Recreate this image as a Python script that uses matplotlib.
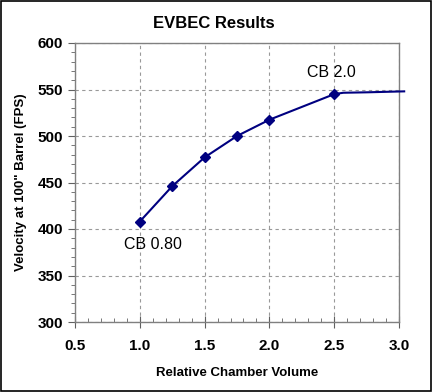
import matplotlib
matplotlib.use("Agg")
import matplotlib.pyplot as plt
from matplotlib.ticker import MultipleLocator, FormatStrFormatter

plt.rcParams['font.family'] = ['Liberation Sans', 'DejaVu Sans']

marker_x = [1.0, 1.25, 1.5, 1.75, 2.0, 2.5]
marker_y = [408, 446, 477, 500, 517.5, 545]
tail_x = [2.5, 2.57, 2.76, 3.04]
tail_y = [545, 546.5, 547, 548]
annotations = [("CB 2.0", 2.48, 568.5), ("CB 0.80", 1.10, 383)]

fig = plt.figure(figsize=(4.32, 3.92), dpi=100)
ax = fig.add_axes([75/432, 1-322/392, (399-75)/432, (322-43)/392])

navy = '#000080'
ax.plot(marker_x, marker_y, color=navy, lw=1.5, marker='D', ms=5.5, zorder=3)
ax.plot(tail_x, tail_y, color=navy, lw=1.5, zorder=3, clip_on=False)

for txt, x, y in annotations:
    ax.text(x, y, txt, ha='center', va='center', fontsize=11.5)

ax.set_xlim(0.5, 3.0)
ax.set_ylim(300, 600)
ax.xaxis.set_major_locator(MultipleLocator(0.5))
ax.xaxis.set_minor_locator(MultipleLocator(0.1))
ax.yaxis.set_major_locator(MultipleLocator(50))
ax.yaxis.set_minor_locator(MultipleLocator(10))
ax.xaxis.set_major_formatter(FormatStrFormatter('%.1f'))

ax.grid(True, which='major', ls=(0, (3, 3)), color='#999999', lw=0.8)
for s in ax.spines.values():
    s.set_color('#808080')
    s.set_linewidth(1.0)
ax.tick_params(axis='x', which='major', direction='inout', length=8, color='#606060', labelsize=11, pad=8)
ax.tick_params(axis='x', which='minor', direction='in', length=3, color='#606060')
ax.tick_params(axis='y', which='major', direction='out', length=5, color='#606060', labelsize=11)
ax.tick_params(axis='y', which='minor', direction='out', length=3, color='#606060')
for lab in ax.get_xticklabels() + ax.get_yticklabels():
    lab.set_fontweight('bold')

ax.set_xlabel('Relative Chamber Volume', fontsize=9.5, fontweight='bold', labelpad=10)
ax.set_ylabel('Velocity at 100" Barrel (FPS)', fontsize=9.5, fontweight='bold', labelpad=8)
fig.text(214/432, 1-24/392, 'EVBEC Results', ha='center', va='center', fontsize=12, fontweight='bold')

fig.patches.append(plt.Rectangle((0.002, 0.002), 0.996, 0.996, transform=fig.transFigure,
                                 fill=False, edgecolor='black', lw=1.2))

fig.savefig('out.png', dpi=100)
